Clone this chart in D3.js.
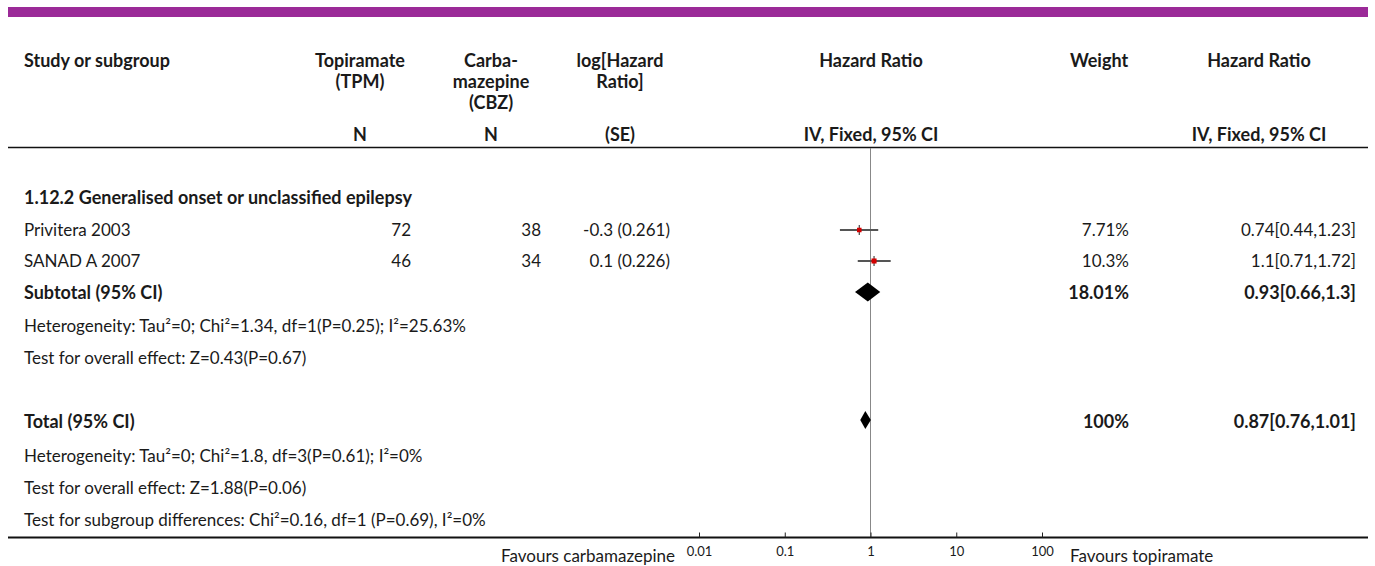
<!DOCTYPE html>
<html>
<head>
<meta charset="utf-8">
<script src="https://cdn.jsdelivr.net/npm/d3@7"></script>
<style>
  body { margin: 0; background: #fff; }
  svg text { font-family: Lato, "Noto Sans", sans-serif; fill: #1a1a1a; }
</style>
</head>
<body>
<svg id="chart" width="1375" height="566"></svg>
<script>
// data
const studies = ['Privitera 2003', 'SANAD A 2007'];
const tpmN = [72, 46];
const cbzN = [38, 34];
const logHR = [-0.3, 0.1];
const logSE = [0.261, 0.226];
const weights = [7.71, 10.3];
const hrEst = [0.74, 1.1];
const hrLow = [0.44, 0.71];
const hrHigh = [1.23, 1.72];
const hrText = ['0.74[0.44,1.23]', '1.1[0.71,1.72]'];
const subtotal = { label: 'Subtotal (95% CI)', weight: 18.01, est: 0.93, lo: 0.66, hi: 1.3, txt: '0.93[0.66,1.3]' };
const total = { label: 'Total (95% CI)', weight: 100, est: 0.87, lo: 0.76, hi: 1.01, txt: '0.87[0.76,1.01]' };
const tickValues = [0.01, 0.1, 1, 10, 100];
const subgroupTitle = '1.12.2 Generalised onset or unclassified epilepsy';
const subgroupNotes = [
  'Heterogeneity: Tau\u00b2=0; Chi\u00b2=1.34, df=1(P=0.25); I\u00b2=25.63%',
  'Test for overall effect: Z=0.43(P=0.67)'
];
const totalNotes = [
  'Heterogeneity: Tau\u00b2=0; Chi\u00b2=1.8, df=3(P=0.61); I\u00b2=0%',
  'Test for overall effect: Z=1.88(P=0.06)',
  'Test for subgroup differences: Chi\u00b2=0.16, df=1 (P=0.69), I\u00b2=0%'
];

const svg = d3.select('#chart');
const fs = 17, fsb = 18;
const x = d3.scaleLog().domain([0.01, 100]).range([699, 1042]);
const axisY = 537.5;

// purple band on top
svg.append('rect').attr('x', 8).attr('y', 7).attr('width', 1360).attr('height', 10).attr('fill', '#9b2a98');

// header
const col = { study: 24, tpm: 360, cbz: 491, lhr: 620, plot: 871, w: 1099, hr: 1259 };
const head = svg.append('g').attr('font-weight', 'bold').attr('font-size', fsb);
const headTxt = (x0, y0, t, anchor = 'middle') => head.append('text')
  .attr('x', x0).attr('y', y0).attr('text-anchor', anchor).attr('dy', '0.35em').text(t);
headTxt(col.study, 61, 'Study or subgroup', 'start');
headTxt(col.tpm, 61, 'Topiramate'); headTxt(col.tpm, 82, '(TPM)');
headTxt(col.cbz, 61, 'Carba-'); headTxt(col.cbz, 82, 'mazepine'); headTxt(col.cbz, 103, '(CBZ)');
headTxt(col.lhr, 61, 'log[Hazard'); headTxt(col.lhr, 82, 'Ratio]');
headTxt(col.plot, 61, 'Hazard Ratio');
headTxt(col.w, 61, 'Weight');
headTxt(col.hr, 61, 'Hazard Ratio');
headTxt(col.tpm, 135, 'N'); headTxt(col.cbz, 135, 'N'); headTxt(col.lhr, 135, '(SE)');
headTxt(col.plot, 135, 'IV, Fixed, 95% CI'); headTxt(col.hr, 135, 'IV, Fixed, 95% CI');
svg.append('line').attr('x1', 8).attr('x2', 1368).attr('y1', 147.5).attr('y2', 147.5)
  .attr('stroke', '#111').attr('stroke-width', 1.5);

// null line
svg.append('line').attr('x1', x(1)).attr('x2', x(1)).attr('y1', 148).attr('y2', axisY)
  .attr('stroke', '#888').attr('stroke-width', 1);

const body = svg.append('g').attr('font-size', fs);
const txt = (x0, y0, t, anchor = 'start', bold = false) => body.append('text')
  .attr('x', x0).attr('y', y0).attr('dy', '0.35em').attr('text-anchor', anchor)
  .attr('font-weight', bold ? 'bold' : 'normal').attr('font-size', bold ? fsb : fs).text(t);

txt(col.study, 198, subgroupTitle, 'start', true);

// studies
const rowY = [230, 261];
studies.forEach((s, i) => {
  const y = rowY[i];
  txt(col.study, y, s);
  txt(411, y, tpmN[i], 'end');
  txt(541, y, cbzN[i], 'end');
  txt(670, y, `${logHR[i]} (${logSE[i]})`, 'end');
  txt(1129, y, `${weights[i]}%`, 'end');
  txt(1356, y, hrText[i], 'end');
  svg.append('line').attr('x1', x(hrLow[i])).attr('x2', x(hrHigh[i])).attr('y1', y).attr('y2', y)
    .attr('stroke', '#555').attr('stroke-width', 2);
  svg.append('line').attr('x1', x(hrEst[i])).attr('x2', x(hrEst[i])).attr('y1', y - 5).attr('y2', y + 5)
    .attr('stroke', '#444').attr('stroke-width', 1.2);
  const sz = 3 + weights[i] * 0.2;
  svg.append('rect').attr('x', x(hrEst[i]) - sz / 2).attr('y', y - sz / 2)
    .attr('width', sz).attr('height', sz).attr('fill', '#d40000');
});

// pooled rows
const diamond = (d, y, hh) => svg.append('path')
  .attr('d', `M${x(d.lo)},${y}L${x(d.est)},${y - hh}L${x(d.hi)},${y}L${x(d.est)},${y + hh}Z`)
  .attr('fill', '#000');

txt(col.study, 293, subtotal.label, 'start', true);
txt(1129, 293, `${subtotal.weight}%`, 'end', true);
txt(1356, 293, subtotal.txt, 'end', true);
diamond(subtotal, 292, 9.5);
subgroupNotes.forEach((n, i) => txt(col.study, [326, 358][i], n));

txt(col.study, 422, total.label, 'start', true);
txt(1129, 422, `${total.weight}%`, 'end', true);
txt(1356, 422, total.txt, 'end', true);
diamond(total, 420, 9);
totalNotes.forEach((n, i) => txt(col.study, [456, 488, 520][i], n));

// bottom axis
svg.append('line').attr('x1', 8).attr('x2', 1368).attr('y1', axisY).attr('y2', axisY)
  .attr('stroke', '#111').attr('stroke-width', 1.8);
const axis = d3.axisBottom(x).tickValues(tickValues).tickFormat(d => String(d))
  .tickSizeInner(-5).tickSizeOuter(0).tickPadding(9);
const ag = svg.append('g').attr('transform', `translate(0,${axisY})`).call(axis);
ag.select('.domain').remove();
ag.selectAll('line').attr('stroke', '#222');
ag.selectAll('text').attr('font-size', 13).attr('font-family', 'Lato, sans-serif').attr('fill', '#222');
txt(675, 556, 'Favours carbamazepine', 'end');
txt(1070, 556, 'Favours topiramate', 'start');
</script>
</body>
</html>
